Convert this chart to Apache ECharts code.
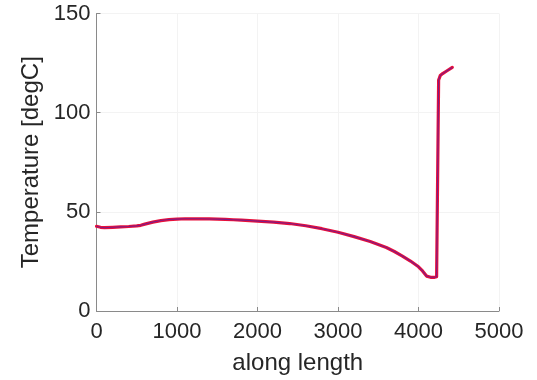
<!DOCTYPE html>
<html>
<head>
<meta charset="utf-8">
<script src="https://cdn.jsdelivr.net/npm/echarts@6/dist/echarts.min.js"></script>
<style>
  html, body { margin: 0; padding: 0; background: #fff; }
  #chart { width: 537px; height: 380px; }
</style>
</head>
<body>
<div id="chart"></div>
<script>
// Position along the length and temperature profile (degC)
const lengthPos = [0, 50, 100, 200, 300, 400, 500, 550, 600, 700, 800, 900, 1000, 1100, 1200, 1300,
  1400, 1500, 1600, 1700, 1800, 1900, 2000, 2200, 2400, 2600, 2800, 3000, 3200, 3400, 3600, 3700,
  3800, 3900, 4000, 4050, 4100, 4150, 4200, 4225, 4250, 4270, 4300, 4350, 4420];
const tempA = [42.7, 42.2, 42.0, 42.2, 42.4, 42.6, 42.9, 43.2, 43.8, 44.8, 45.6, 46.1, 46.3, 46.5, 46.5, 46.5,
  46.4, 46.3, 46.2, 46.0, 45.8, 45.6, 45.3, 44.8, 44.1, 43.0, 41.5, 39.7, 37.5, 35.0, 32.0, 30.0,
  27.7, 25.2, 22.3, 20.2, 17.6, 17.0, 17.0, 17.3, 116.5, 118.7, 119.7, 121.0, 122.8];
const tempB = tempA.slice();

const xTicks = { min: 0, max: 5000, interval: 1000 };
const yTicks = { min: 0, max: 150, interval: 50 };

const toPairs = (xs, ys) => xs.map((x, i) => [x, ys[i]]);

const font = 'Liberation Sans, Arial, Helvetica, sans-serif';
const axisGray = '#8a8a8a';
const gridGray = '#f3f3f3';
const textColor = '#262626';
const plainNumber = v => String(v);

const chart = echarts.init(document.getElementById('chart'), null, { renderer: 'canvas' });
chart.setOption({
  animation: false,
  backgroundColor: '#ffffff',
  grid: { left: 96.5, right: 38, top: 13.5, bottom: 66, containLabel: false },
  xAxis: {
    type: 'value',
    min: xTicks.min, max: xTicks.max, interval: xTicks.interval,
    name: 'along length',
    nameLocation: 'middle',
    nameGap: 40,
    nameTextStyle: { fontFamily: font, fontSize: 24, color: textColor },
    axisLine: { show: true, lineStyle: { color: axisGray, width: 1 } },
    axisTick: { show: true, inside: true, length: 4, lineStyle: { color: axisGray } },
    axisLabel: { fontFamily: font, fontSize: 22, color: textColor, margin: 10, formatter: plainNumber },
    splitLine: { show: true, lineStyle: { color: gridGray, width: 1 } }
  },
  yAxis: {
    type: 'value',
    min: yTicks.min, max: yTicks.max, interval: yTicks.interval,
    name: 'Temperature [degC]',
    nameLocation: 'middle',
    nameGap: 47,
    nameTextStyle: { fontFamily: font, fontSize: 24, color: textColor },
    axisLine: { show: true, lineStyle: { color: axisGray, width: 1 } },
    axisTick: { show: true, inside: true, length: 4, lineStyle: { color: axisGray } },
    axisLabel: { fontFamily: font, fontSize: 22, color: textColor, margin: 6, formatter: plainNumber },
    splitLine: { show: true, lineStyle: { color: gridGray, width: 1 } }
  },
  series: [
    {
      type: 'line',
      data: toPairs(lengthPos, tempA),
      showSymbol: false,
      lineStyle: { color: '#e8103a', width: 3.2, join: 'round', cap: 'round' },
      z: 2
    },
    {
      type: 'line',
      data: toPairs(lengthPos, tempB),
      showSymbol: false,
      lineStyle: { color: '#3a22b8', width: 1.1, opacity: 0.6, join: 'round' },
      z: 3
    }
  ]
});
</script>
</body>
</html>
